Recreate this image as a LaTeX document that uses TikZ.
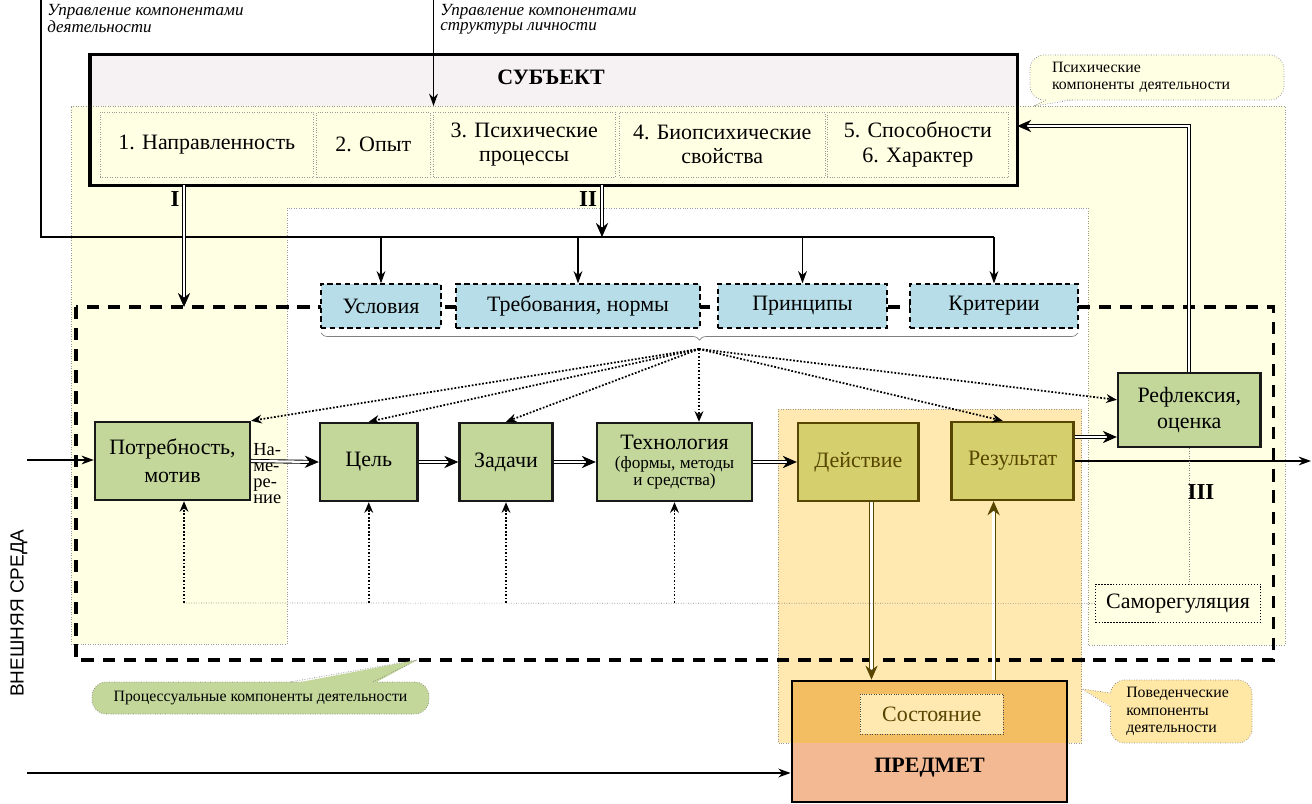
\documentclass[tikz,border=0pt]{standalone}
\usepackage{fontspec}
\setmainfont{Liberation Serif}
\newfontfamily\sansf{Liberation Sans}
\usepackage{tikz}
\usetikzlibrary{arrows.meta,decorations.pathreplacing}

\definecolor{psybg}{HTML}{FFFFE4}
\definecolor{subjbg}{HTML}{F6F1F2}
\definecolor{normbg}{HTML}{B7DDE8}
\definecolor{procbg}{HTML}{C4D79B}
\definecolor{actbg}{HTML}{D6CF6E}
\definecolor{actline}{HTML}{574600}
\definecolor{behbg}{HTML}{FFE9B1}
\definecolor{predbg}{HTML}{F2B993}
\definecolor{statebg}{HTML}{F3BE62}
\definecolor{behnote}{HTML}{FFE8A6}

\begin{document}
\begin{tikzpicture}[x=0.02cm, y=-0.02cm,
    region/.style={draw=gray!80, densely dotted, line width=0.4pt},
    item/.style={draw=gray!80, densely dotted, fill=psybg, inner sep=1pt, align=center,
      minimum height=1.3cm, font=\fontsize{12.5}{14}\selectfont},
    norm/.style={draw, dash pattern=on 3pt off 2pt, line width=0.7pt, fill=normbg,
      minimum height=0.88cm, font=\fontsize{12.5}{14}\selectfont},
    proc/.style={draw=black!90, line width=1.4pt, fill=procbg, align=center,
      minimum height=1.56cm, font=\fontsize{12.5}{16}\selectfont},
    act/.style={proc, draw=actline, fill=actbg, text=actline},
    ctl/.style={line width=0.9pt, -{Stealth[length=7pt,width=5pt]}},
    dbl/.style={double, double distance=1.3pt, line width=0.5pt, -{Stealth[length=8pt,width=7pt]}},
    hint/.style={densely dotted, line width=1pt, -{Stealth[length=6pt,width=5pt]}},
    guide/.style={gray, densely dotted, line width=0.4pt},
    roman/.style={font=\fontsize{13}{15}\selectfont\bfseries},
    note/.style={rounded corners=8pt, draw=gray, densely dotted, line width=0.4pt,
      align=left, font=\fontsize{9}{10}\selectfont},
    small/.style={font=\fontsize{9.8}{9.8}\selectfont}]
    \useasboundingbox (0,0) rectangle (1312,804);

    % backgrounds
    \node[fill=subjbg, minimum width=18.53cm, minimum height=2.6cm] (subj) at (553.75,120) {};
    \filldraw[region, fill=psybg] (71,106) -- (1285,106) -- (1285,645) -- (1088,645)
      -- (1088,208) -- (287,208) -- (287,644) -- (71,644) -- cycle;
    \filldraw[region, fill=behbg] (778,409) rectangle (1081.5,743);
    \draw[line width=2pt, dash pattern=on 7pt off 5pt] (76,307) rectangle (1273.5,660);
    \draw[line width=2pt] (subj.north west) rectangle (subj.south east);

    % subject
    \node[font=\fontsize{12.5}{15}\selectfont\bfseries] (subjtitle) at (551,77) {СУБЪЕКТ};
    \node[item, minimum width=4.27cm] (it1) at (206.75,144.5) {1. Направленность};
    \node[item, minimum width=2.27cm] (it2) at (373.25,144.5) {2. Опыт};
    \node[item, minimum width=3.63cm] (it3) at (524.25,144.5) {3. Психические\\процессы};
    \node[item, minimum width=4.11cm] (it4) at (722.25,144.5) {4. Биопсихические\\свойства};
    \node[item, minimum width=3.63cm] (it5) at (917.8,144.5) {5. Способности\\6. Характер};

    % norms
    \node[norm, minimum width=2.4cm] (usl) at (381,306) {Условия};
    \node[norm, minimum width=4.88cm] (treb) at (578,306) {Требования, нормы};
    \node[norm, minimum width=3.38cm] (princ) at (802.5,306) {Принципы};
    \node[norm, minimum width=3.36cm] (krit) at (994,306) {Критерии};

    % process
    \node[proc, minimum width=3.1cm] (potr) at (172.5,461) {Потребность,\\мотив};
    \node[proc, minimum width=1.95cm] (cel) at (368.75,462) {Цель};
    \node[proc, minimum width=1.86cm] (zad) at (506,462) {Задачи};
    \node[proc, minimum width=3.1cm] (tech) at (674.5,462)
      {Технология\\[-5pt]{\fontsize{9.8}{9.8}\selectfont(формы, методы}\\[-6.5pt]%
       {\fontsize{9.8}{9.8}\selectfont и средства)}};
    \node[act, minimum width=2.41cm] (deyst) at (858.3,462) {Действие};
    \node[act, minimum width=2.44cm] (rez) at (1012.7,461) {Результат};
    \node[proc, minimum width=2.85cm, minimum height=1.48cm, font=\fontsize{12.5}{15}\selectfont]
      (refl) at (1189.3,410) {Рефлексия,\\оценка};
    \node[draw, densely dotted, line width=0.7pt, fill=psybg, minimum width=3.3cm,
      minimum height=0.77cm, font=\fontsize{12.5}{14}\selectfont] (samo) at (1178,603.4) {Саморегуляция};
    \node[align=left, anchor=north west, inner sep=0pt, font=\fontsize{10.5}{9.2}\selectfont]
      (intent) at (253,443) {На-\\ме-\\ре-\\ние};

    % object
    \node[draw, line width=1.6pt, fill=predbg, minimum width=5.5cm, minimum height=2.42cm,
      path picture={\fill[statebg] (path picture bounding box.north west)
        rectangle ([yshift=-1.24cm]path picture bounding box.north east);}] (pred) at (929.5,741.5) {};
    \node[font=\fontsize{12.5}{15}\selectfont\bfseries] (predtitle) at (929.5,768) {ПРЕДМЕТ};
    \node[draw=gray!60!black, densely dotted, fill=behbg, text=actline, minimum width=2.87cm,
      minimum height=0.8cm, font=\fontsize{12.5}{14}\selectfont] (state) at (931.75,714) {Состояние};

    % control lines
    \coordinate (ctlA) at (41,0);
    \coordinate (busL) at (41,237);
    \coordinate (ctlB) at (433.5,0);
    \coordinate (psytop) at (0,106);
    \coordinate (Ix) at (184,0);
    \coordinate (IIx) at (602,0);
    \coordinate (dashtop) at (0,307);
    \draw[line width=0.9pt] (ctlA) -- (busL) -- (busL -| krit.north);
    \draw[ctl] (ctlB) -- (ctlB |- psytop);
    \foreach \n in {usl,treb,princ,krit}
      \draw[ctl] (busL -| \n.north) -- (\n.north);
    \node[anchor=north west, inner sep=0pt, align=left, font=\fontsize{9.7}{8.6}\selectfont\itshape]
      (ctlAtext) at (47,4) {Управление компонентами\\деятельности};
    \node[anchor=north west, inner sep=0pt, align=left, font=\fontsize{9.7}{8.6}\selectfont\itshape]
      (ctlBtext) at (440,4) {Управление компонентами\\структуры личности};

    \draw[dbl] (subj.south -| Ix) -- (Ix |- dashtop);
    \draw[dbl] (subj.south -| IIx) -- (IIx |- busL);
    \node[roman] (lbI) at (175,199) {I};
    \node[roman] (lbII) at (588,199) {II};
    \node[roman] (lbIII) at (1201,492) {III};

    % main flow
    \coordinate (envA) at (27,460);
    \coordinate (envB) at (27,773);
    \coordinate (outR) at (1311,461);
    \draw[ctl] (envA) -- (envA -| potr.west);
    \draw[dbl] (potr.east) -- (cel.west);
    \draw[dbl] (cel.east) -- (zad.west);
    \draw[dbl] (zad.east) -- (tech.west);
    \draw[dbl] (tech.east) -- (deyst.west);
    \draw[ctl] (outR -| rez.east) -- (outR);
    \draw[dbl] (rez.east |- 0,437) -- (refl.west |- 0,437);
    \draw[dbl] (refl.north) -- (refl.north |- 0,126) -- (subj.east |- 0,126);
    \draw[ctl] (envB) -- (envB -| pred.west);

    \coordinate (dn) at (871.5,0);
    \coordinate (up) at (993.6,0);
    \draw[dbl, actline] (deyst.south -| dn) -- (pred.north -| dn);
    \draw[dbl, actline] (pred.north -| up) -- (rez.south -| up);

    % norms to process
    \draw[gray, line width=0.4pt, decorate, decoration={brace, mirror, amplitude=4pt}]
      (321,333) -- (1078,333);
    \coordinate (brtip) at (699,349);
    \draw[hint] (brtip) -- (potr.north east);
    \draw[hint] (brtip) -- (cel.north);
    \draw[hint] (brtip) -- (zad.north);
    \draw[hint] (brtip) -- (tech.north -| brtip);
    \draw[hint] (brtip) -- ([xshift=-0.2cm]rez.north);
    \draw[hint] (brtip) -- (refl.172);

    % self-regulation
    \coordinate (sr) at (0,603);
    \draw[guide] (Ix |- sr) -- (samo.west);
    \draw[guide] (refl.south) -- (refl.south |- samo.north);
    \draw[hint] (Ix |- sr) -- (Ix |- potr.south);
    \foreach \n in {cel,zad,tech}
      \draw[hint] (\n.south |- sr) -- (\n.south);

    % notes
    \node[note, fill=psybg, minimum width=5.08cm, minimum height=0.9cm, text width=4.2cm]
      (psynote) at (1157,77.5) {Психические\\компоненты деятельности};
    \fill[psybg] (1046,98) -- (1034,106) -- (1072,98) -- cycle;
    \draw[guide] (1046,100) -- (1034,106) -- (1072,100);

    \node[note, fill=procbg, align=center, minimum width=6.74cm, minimum height=0.64cm]
      (procnote) at (260.5,698) {Процессуальные компоненты деятельности};
    \fill[procbg] (290,684) -- (417,660) -- (373,684) -- cycle;
    \draw[guide] (290,682) -- (417,660) -- (373,682);

    \node[note, fill=behnote, minimum width=2.83cm, minimum height=1.26cm, text width=2.2cm]
      (behnote) at (1181.3,711.5) {Поведенческие\\компоненты\\деятельности};
    \fill[behnote] (1112,693) -- (1082,689) -- (1112,707) -- cycle;
    \draw[guide] (1110.5,693) -- (1082,689) -- (1110.5,707);

    \node[rotate=90, font=\sansf\fontsize{10.8}{13}\selectfont] (env) at (19,613) {ВНЕШНЯЯ СРЕДА};
\end{tikzpicture}
\end{document}
